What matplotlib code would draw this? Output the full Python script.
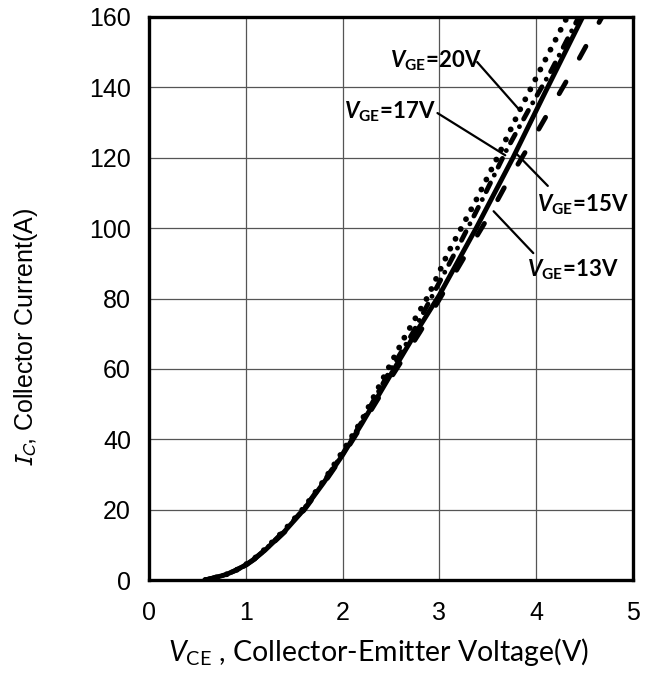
import matplotlib
matplotlib.use("Agg")
import matplotlib.pyplot as plt

# output characteristics
vce_20 = [0.58, 0.7, 0.8, 0.9, 1.0, 1.1, 1.2, 1.4, 1.6, 1.8, 2.0, 2.2, 2.45, 2.65, 2.88, 3.09, 3.38, 3.61, 3.83, 4.06, 4.32]
ic_20 = [0, 0.8, 1.6, 2.8, 4.4, 6.4, 8.8, 14.2, 20.5, 28, 36.5, 45.5, 59, 69.5, 80.5, 93, 108, 120.7, 133.5, 146, 160]

vce_17 = [0.58, 0.7, 0.8, 0.9, 1.0, 1.1, 1.2, 1.4, 1.6, 1.8, 2.0, 2.2, 2.48, 2.72, 2.95, 3.2, 3.45, 3.69, 3.92, 4.16, 4.44]
ic_17 = [0, 0.8, 1.6, 2.8, 4.3, 6.3, 8.6, 14.0, 20.2, 27.8, 35.8, 45, 59, 70, 82, 95, 108.5, 122, 133.5, 145, 160]

vce_15 = [0.58, 0.7, 0.8, 0.9, 1.0, 1.1, 1.2, 1.4, 1.6, 1.8, 2.0, 2.2, 2.5, 2.75, 3.0, 3.38, 3.76, 4.1, 4.48]
ic_15 = [0, 0.8, 1.6, 2.8, 4.3, 6.2, 8.5, 13.8, 20, 27.5, 35.5, 44.5, 58.5, 70, 81, 100, 120, 139, 160]

vce_13 = [0.58, 0.7, 0.8, 0.9, 1.0, 1.1, 1.2, 1.4, 1.6, 1.8, 2.0, 2.2, 2.5, 2.8, 3.07, 3.29, 3.51, 3.72, 3.94, 4.16, 4.38, 4.68]
ic_13 = [0, 0.8, 1.6, 2.8, 4.2, 6.1, 8.4, 13.6, 19.8, 27.2, 35.2, 44, 57.5, 70.5, 83, 93.3, 103.4, 114, 124, 134.5, 145, 160]

x_ticks = [0, 1, 2, 3, 4, 5]
y_ticks = [0, 20, 40, 60, 80, 100, 120, 140, 160]

# label text, where it sits and where its leader goes (data coords)
labels = ["20V", "17V", "15V", "13V"]
label_pos = [(2.49, 147.4), (2.96, 133.1), (4.01, 106.5), (3.91, 88.0)]
label_ha = ["left", "right", "left", "left"]
leader_from = [(3.39, 147.2), (2.98, 132.7), (3.78, 121.6), (3.56, 104.8)]
leader_to = [(3.83, 133.5), (3.68, 120.7), (4.12, 112.0), (3.97, 92.9)]

plt.rcParams["mathtext.fontset"] = "custom"
plt.rcParams["mathtext.rm"] = "Lato"
plt.rcParams["mathtext.it"] = "Lato:italic"
plt.rcParams["mathtext.bf"] = "Lato:bold"
plt.rcParams["mathtext.bfit"] = "Lato:bold:italic"

fig = plt.figure(figsize=(6.47, 6.81), dpi=100)
ax = fig.add_axes([149 / 647, 1 - 580 / 681, 484 / 647, 563 / 681])

lw = 3.5
ax.plot(vce_13, ic_13, color="black", lw=lw, linestyle=(0, (2.8, 5.6)),
        dash_capstyle="round", zorder=3)
ax.plot(vce_15, ic_15, color="black", lw=lw, solid_capstyle="butt", zorder=4)
ax.plot(vce_17, ic_17, color="black", lw=lw, linestyle=(0, (2.0, 1.8, 0.01, 1.8)),
        dash_capstyle="round", zorder=3)
ax.plot(vce_20, ic_20, color="black", lw=4.2, linestyle=(0, (0.01, 1.9)),
        dash_capstyle="round", zorder=3)

for text, pos, ha, p0, p1 in zip(labels, label_pos, label_ha, leader_from, leader_to):
  ax.text(pos[0], pos[1], r"$\mathbfit{V}_{\mathbf{GE}}$=" + text,
          ha=ha, va="center", fontsize=16, family="Lato", fontweight="bold",
          zorder=6)
  ax.annotate("", xy=p1, xytext=p0,
              arrowprops=dict(arrowstyle="-", color="black", lw=1.6,
                              shrinkA=0, shrinkB=0), zorder=5)

ax.set_xlim(0, 5)
ax.set_ylim(0, 160)
ax.set_xticks(x_ticks)
ax.set_yticks(y_ticks)
ax.set_xticklabels([str(v) for v in x_ticks], family="Liberation Sans", fontsize=18)
ax.set_yticklabels([str(v) for v in y_ticks], family="Liberation Sans", fontsize=18)
ax.tick_params(length=0, pad=13)
ax.tick_params(axis="x", pad=15)
ax.grid(True, color="#555555", lw=0.9, zorder=0)
ax.set_axisbelow(True)
for spine in ax.spines.values():
  spine.set_linewidth(2.4)
  spine.set_zorder(7)

ax.set_xlabel(r"$\mathit{V}_{\mathrm{CE}}$ , Collector-Emitter Voltage(V)",
              family="Lato", fontsize=20.5)
ax.xaxis.set_label_coords(0.475, -0.1)
ax.set_ylabel(r"$I_C$, Collector Current(A)", family="Liberation Sans",
              fontsize=18, math_fontfamily="stixsans")
ax.yaxis.set_label_coords(-0.225, 0.43)

fig.savefig("out.png", dpi=100)
